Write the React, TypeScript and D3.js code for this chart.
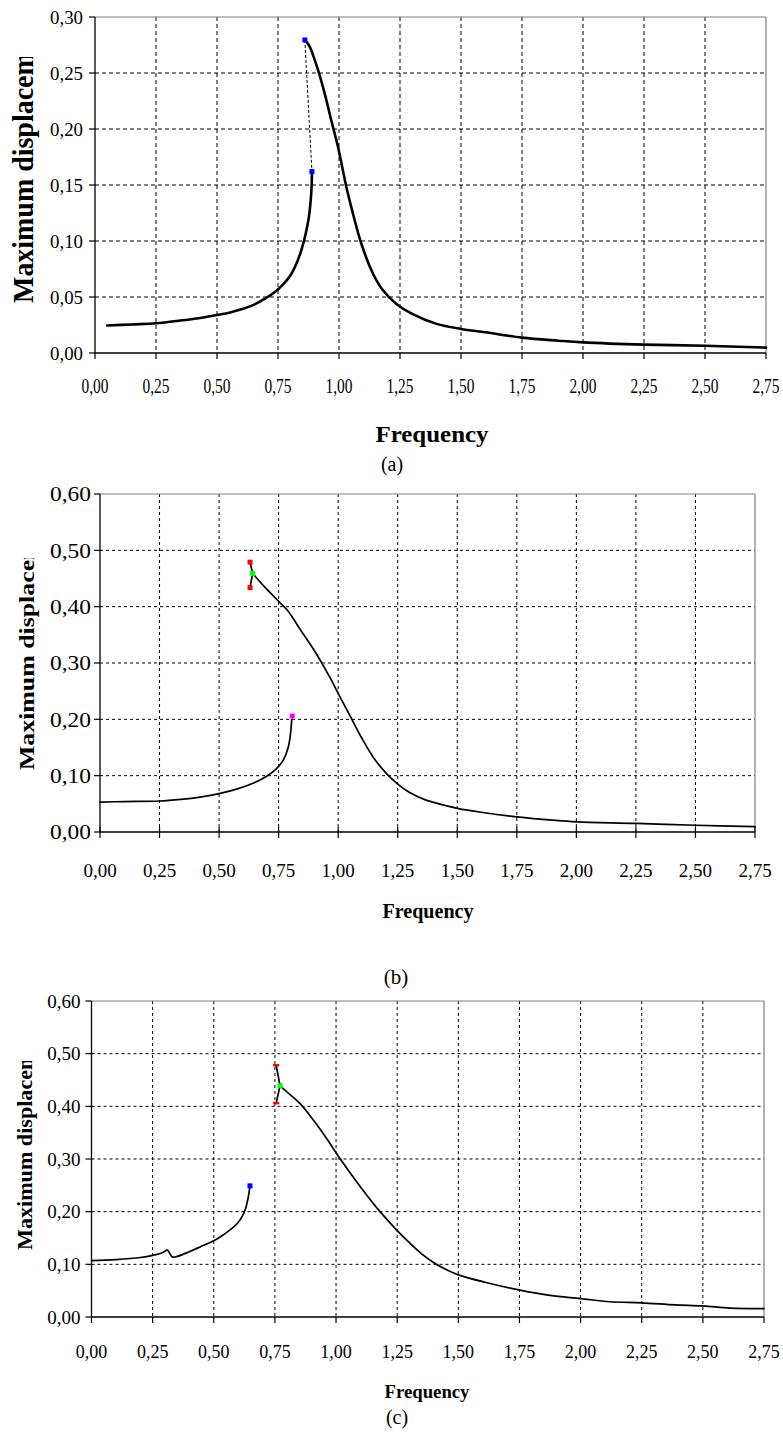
import React from 'react';
import * as d3 from 'd3';

type Pt = [number, number];

// ---------- data ----------
const freqTicks = [0, 0.25, 0.5, 0.75, 1, 1.25, 1.5, 1.75, 2, 2.25, 2.5, 2.75];
const dispTicksA = [0, 0.05, 0.1, 0.15, 0.2, 0.25, 0.3];
const dispTicksBC = [0, 0.1, 0.2, 0.3, 0.4, 0.5, 0.6];
const xTitle = 'Frequency';
const yTitle = 'Maximum displacement';
const captions = ['(a)', '(b)', '(c)'];

// (a)
const lowerA: Pt[] = [
  [0.05, 0.0245], [0.15, 0.0255], [0.25, 0.0265], [0.35, 0.029], [0.45, 0.032], [0.5, 0.034],
  [0.55, 0.036], [0.6, 0.039], [0.65, 0.043], [0.7, 0.049], [0.74, 0.055], [0.77, 0.061],
  [0.8, 0.069], [0.82, 0.077], [0.84, 0.088], [0.855, 0.099], [0.867, 0.11], [0.877, 0.122],
  [0.884, 0.136], [0.888, 0.15], [0.889, 0.162],
];
const upperA: Pt[] = [
  [0.86, 0.2795], [0.87, 0.277], [0.88, 0.2735], [0.9, 0.262], [0.914, 0.2527], [0.941, 0.232],
  [0.968, 0.208], [0.996, 0.184], [1.03, 0.1485], [1.057, 0.1247], [1.091, 0.098], [1.139, 0.071],
  [1.18, 0.056], [1.234, 0.044], [1.3, 0.035], [1.4, 0.026], [1.5, 0.0215], [1.6, 0.0185],
  [1.75, 0.0137], [1.9, 0.011], [2.0, 0.0095], [2.25, 0.0075], [2.5, 0.0065], [2.75, 0.0048],
];
const jumpA: Pt[] = [[0.86, 0.2795], [0.889, 0.162]];

// (b)
const lowerB: Pt[] = [
  [0.0, 0.053], [0.1, 0.054], [0.25, 0.055], [0.34, 0.058], [0.42, 0.062], [0.5, 0.068],
  [0.58, 0.077], [0.65, 0.088], [0.7, 0.099], [0.74, 0.112], [0.77, 0.128], [0.79, 0.15],
  [0.8, 0.175], [0.805, 0.2],
];
const upperB: Pt[] = [
  [0.641, 0.459], [0.7, 0.431], [0.756, 0.407], [0.79, 0.392], [0.84, 0.36], [0.903, 0.32],
  [0.966, 0.274], [1.0, 0.246], [1.05, 0.206], [1.1, 0.166], [1.15, 0.131], [1.2, 0.105],
  [1.25, 0.085], [1.3, 0.07], [1.366, 0.057], [1.45, 0.047], [1.5, 0.042], [1.6, 0.035],
  [1.75, 0.027], [1.9, 0.021], [2.0, 0.018], [2.25, 0.0154], [2.5, 0.012], [2.75, 0.0094],
];
const foldB: Pt[] = [[0.63, 0.479], [0.63, 0.434]];
const saddleB: Pt[] = [[0.641, 0.459]];
const endB: Pt[] = [[0.807, 0.206]];

// (c)
const lowerC: Pt[] = [
  [0.0, 0.107], [0.1, 0.109], [0.2, 0.113], [0.25, 0.117], [0.29, 0.122], [0.31, 0.127],
  [0.33, 0.114], [0.35, 0.115], [0.4, 0.124], [0.444, 0.133], [0.5, 0.145], [0.526, 0.152],
  [0.56, 0.163], [0.597, 0.178], [0.615, 0.19], [0.628, 0.203], [0.64, 0.225], [0.648, 0.249],
];
const upperC: Pt[] = [
  [0.771, 0.439], [0.8, 0.427], [0.853, 0.405], [0.907, 0.374], [0.96, 0.34], [1.016, 0.301],
  [1.1, 0.247], [1.18, 0.2], [1.25, 0.164], [1.3, 0.141], [1.35, 0.12], [1.4, 0.103],
  [1.45, 0.09], [1.5, 0.08], [1.609, 0.066], [1.752, 0.051], [1.875, 0.041], [2.0, 0.035],
  [2.12, 0.029], [2.25, 0.027], [2.387, 0.023], [2.5, 0.021], [2.612, 0.0168], [2.75, 0.016],
];
const foldC: Pt[] = [[0.755, 0.478], [0.755, 0.406]];
const saddleC: Pt[] = [[0.771, 0.439]];
const endC: Pt[] = [[0.648, 0.249]];

// ---------- layout / styles ----------
type Marker = { pts: Pt[]; color: string; w: number; h: number };
type Cfg = {
  id: string;
  x0: number; x1: number; yTop: number; yBot: number; yMax: number;
  yTicks: number[];
  lines: Pt[][];
  stubs: Pt[][];
  dashed: Pt[][];
  markers: Marker[];
  lineW: number;
  gridDash: string;
  yTickFont: number; yTickLen?: number; yTickGap: number;
  xTickFont: number; xTickLen?: number; xTickY: number;
  xTickCross: boolean;
  yTitleFont: number; yTitleLen: number; yTitleX: number; yTitleBottom: number; yTitleClip: number;
  xTitleFont: number; xTitleLen: number; xTitleX: number; xTitleY: number;
  capFont: number; capX: number; capY: number; caption: string;
};

const fmt = (v: number) => d3.format('.2f')(v).replace('.', ',');
const FONT = "'Liberation Serif', 'Times New Roman', Times, serif";

const panels: Cfg[] = [
  {
    id: 'a', x0: 95, x1: 766, yTop: 17, yBot: 353, yMax: 0.3, yTicks: dispTicksA,
    lines: [lowerA, upperA], stubs: [], dashed: [jumpA],
    markers: [{ pts: jumpA, color: '#0000ff', w: 5, h: 5 }],
    lineW: 2.6, gridDash: '4,3',
    yTickFont: 19, yTickLen: 33, yTickGap: 12,
    xTickFont: 20, xTickLen: 27, xTickY: 386, xTickCross: false,
    yTitleFont: 30, yTitleLen: 288, yTitleX: 22, yTitleBottom: 303, yTitleClip: 57,
    xTitleFont: 24, xTitleLen: 113, xTitleX: 432, xTitleY: 434,
    capFont: 20, capX: 392, capY: 464, caption: captions[0],
  },
  {
    id: 'b', x0: 100, x1: 755, yTop: 494, yBot: 832, yMax: 0.6, yTicks: dispTicksBC,
    lines: [lowerB, upperB], stubs: [[foldB[0], saddleB[0]], [foldB[1], saddleB[0]]], dashed: [],
    markers: [
      { pts: foldB, color: '#ff0000', w: 5, h: 5 },
      { pts: saddleB, color: '#00ff00', w: 5, h: 5 },
      { pts: endB, color: '#ff00ff', w: 5, h: 5 },
    ],
    lineW: 1.7, gridDash: '3,3',
    yTickFont: 21, yTickLen: 41, yTickGap: 9,
    xTickFont: 19, xTickY: 870, xTickCross: true,
    yTitleFont: 22, yTitleLen: 266, yTitleX: 26, yTitleBottom: 770, yTitleClip: 558,
    xTitleFont: 20, xTitleLen: 91, xTitleX: 428, xTitleY: 911,
    capFont: 21, capX: 396, capY: 977, caption: captions[1],
  },
  {
    id: 'c', x0: 91.5, x1: 764, yTop: 1001, yBot: 1317, yMax: 0.6, yTicks: dispTicksBC,
    lines: [lowerC, upperC], stubs: [[foldC[0], saddleC[0]], [foldC[1], saddleC[0]]], dashed: [],
    markers: [
      { pts: foldC, color: '#ff0000', w: 6, h: 2.5 },
      { pts: saddleC, color: '#00ff00', w: 5, h: 5 },
      { pts: endC, color: '#0000ff', w: 5, h: 5 },
    ],
    lineW: 1.7, gridDash: '3,3',
    yTickFont: 19, yTickGap: 11,
    xTickFont: 18, xTickY: 1352, xTickCross: false,
    yTitleFont: 21, yTitleLen: 228, yTitleX: 25, yTitleBottom: 1250, yTitleClip: 1061,
    xTitleFont: 18, xTitleLen: 85, xTitleX: 427, xTitleY: 1392,
    capFont: 20, capX: 397, capY: 1417, caption: captions[2],
  },
];

function Panel({ c }: { c: Cfg }) {
  const x = d3.scaleLinear().domain([0, 2.75]).range([c.x0, c.x1]);
  const y = d3.scaleLinear().domain([0, c.yMax]).range([c.yBot, c.yTop]);
  const line = d3.line<Pt>().x(d => x(d[0])).y(d => y(d[1])).curve(d3.curveCatmullRom.alpha(0.5));
  const straight = d3.line<Pt>().x(d => x(d[0])).y(d => y(d[1]));
  const clipId = `clip-${c.id}`;
  return (
    <g style={{ fontFamily: FONT }}>
      <defs>
        <clipPath id={clipId}>
          <rect x={0} y={c.yTitleClip} width={80} height={c.yTitleBottom - c.yTitleClip + 20} />
        </clipPath>
      </defs>
      {/* grid */}
      {c.yTicks.filter(t => t > 0 && t < c.yMax - 1e-9).map(t => (
        <line key={'hy' + t} x1={c.x0} x2={c.x1} y1={y(t)} y2={y(t)} stroke="#000" strokeWidth={1} strokeDasharray={c.gridDash} />
      ))}
      {freqTicks.filter(t => t > 0 && t < 2.75).map(t => (
        <line key={'vx' + t} x1={x(t)} x2={x(t)} y1={c.yTop} y2={c.yBot} stroke="#000" strokeWidth={1} strokeDasharray={c.gridDash} />
      ))}
      {/* border */}
      <line x1={c.x0} x2={c.x1} y1={c.yTop} y2={c.yTop} stroke="#808080" strokeWidth={1.2} />
      <line x1={c.x1} x2={c.x1} y1={c.yTop} y2={c.yBot} stroke="#808080" strokeWidth={1.2} />
      {/* axes */}
      <line x1={c.x0} x2={c.x0} y1={c.yTop} y2={c.yBot} stroke="#000" strokeWidth={1.3} />
      <line x1={c.x0} x2={c.x1} y1={c.yBot} y2={c.yBot} stroke="#000" strokeWidth={1.3} />
      {c.yTicks.map(t => (
        <g key={'yt' + t}>
          <line x1={c.x0 - 6} x2={c.x0} y1={y(t)} y2={y(t)} stroke="#000" strokeWidth={1.2} />
          <text x={c.x0 - c.yTickGap} y={y(t)} dy="0.35em" textAnchor="end" fontSize={c.yTickFont}
            textLength={c.yTickLen} lengthAdjust={c.yTickLen ? 'spacingAndGlyphs' : undefined}>{fmt(t)}</text>
        </g>
      ))}
      {freqTicks.map(t => (
        <g key={'xt' + t}>
          <line x1={x(t)} x2={x(t)} y1={c.xTickCross ? c.yBot - 5 : c.yBot} y2={c.yBot + 6} stroke="#000" strokeWidth={1.2} />
          <text x={x(t)} y={c.xTickY} dy="0.35em" textAnchor="middle" fontSize={c.xTickFont}
            textLength={c.xTickLen} lengthAdjust={c.xTickLen ? 'spacingAndGlyphs' : undefined}>{fmt(t)}</text>
        </g>
      ))}
      {/* series */}
      {c.dashed.map((d, i) => (
        <path key={'d' + i} d={straight(d) || ''} fill="none" stroke="#000" strokeWidth={1} strokeDasharray="3,2" />
      ))}
      {c.stubs.map((d, i) => (
        <path key={'s' + i} d={straight(d) || ''} fill="none" stroke="#000" strokeWidth={c.lineW} />
      ))}
      {c.lines.map((d, i) => (
        <path key={'l' + i} d={line(d) || ''} fill="none" stroke="#000" strokeWidth={c.lineW} strokeLinejoin="round" strokeLinecap="round" />
      ))}
      {c.markers.map((m, i) => m.pts.map((p, j) => (
        <rect key={'m' + i + '-' + j} x={x(p[0]) - m.w / 2} y={y(p[1]) - m.h / 2} width={m.w} height={m.h} fill={m.color} />
      )))}
      {/* titles */}
      <g clipPath={`url(#${clipId})`}>
        <text transform={`translate(${c.yTitleX},${c.yTitleBottom}) rotate(-90)`} dy="0.35em" fontSize={c.yTitleFont}
          fontWeight="bold" textLength={c.yTitleLen} lengthAdjust="spacingAndGlyphs">{yTitle}</text>
      </g>
      <text x={c.xTitleX} y={c.xTitleY} dy="0.35em" textAnchor="middle" fontSize={c.xTitleFont} fontWeight="bold"
        textLength={c.xTitleLen} lengthAdjust="spacingAndGlyphs">{xTitle}</text>
      <text x={c.capX} y={c.capY} dy="0.35em" textAnchor="middle" fontSize={c.capFont}>{c.caption}</text>
    </g>
  );
}

export default function App() {
  return (
    <svg width={783} height={1433} viewBox="0 0 783 1433"
      style={{ position: 'absolute', left: 0, top: 0, display: 'block', background: '#fff' }}>
      <rect x={0} y={0} width={783} height={1433} fill="#fff" />
      {panels.map(p => <Panel key={p.id} c={p} />)}
    </svg>
  );
}
